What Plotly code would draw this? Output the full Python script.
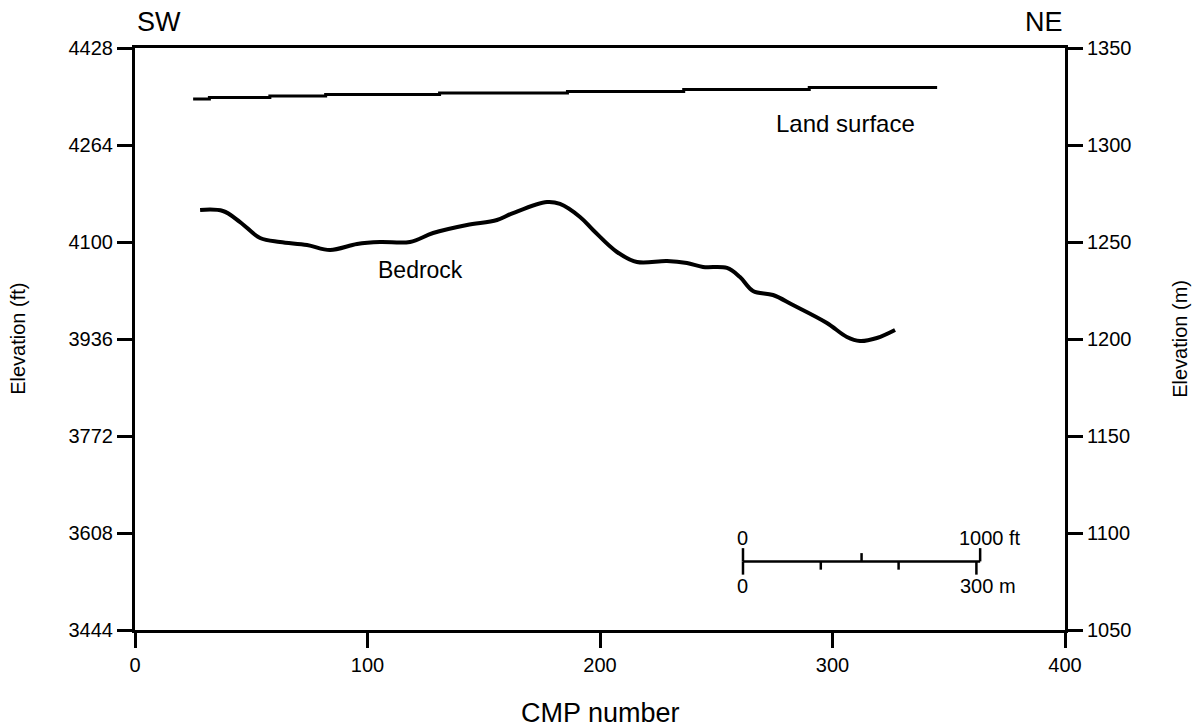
import plotly.graph_objects as go

# CMP profile: land surface (stepped) and bedrock elevation, in feet
land_cmp = [25, 32, 58, 82, 131, 186, 236, 290, 345]
land_ft = [4341.8, 4344.3, 4346.9, 4349.4, 4351.9, 4354.5, 4357.8, 4361.2, 4361.2]

bedrock_cmp = [28.0, 37.8, 45.2, 53.8, 62.4, 74.0, 83.9, 95.5, 105.4, 118.3,
               128.2, 142.8, 155.7, 162.6, 177.2, 182.8, 191.4, 197.0, 207.3,
               215.9, 228.8, 237.4, 244.3, 254.6, 260.2, 265.8, 274.4, 283.0,
               297.6, 306.2, 311.8, 319.1, 326.9]
bedrock_ft = [4154.1, 4152.4, 4133.8, 4106.8, 4100.0, 4095.0, 4086.5, 4096.6,
              4100.0, 4100.0, 4115.2, 4128.8, 4137.2, 4149.0, 4167.6, 4164.3,
              4142.3, 4120.3, 4083.1, 4066.2, 4067.9, 4064.5, 4057.8, 4056.1,
              4040.8, 4017.2, 4010.4, 3993.5, 3963.1, 3939.4, 3932.6, 3937.7,
              3951.2]

x_ticks = [0, 100, 200, 300, 400]
ft_ticks = [3444, 3608, 3772, 3936, 4100, 4264, 4428]
m_ticks = [1050, 1100, 1150, 1200, 1250, 1300, 1350]

# horizontal scale bar (placed in CMP / ft data units)
scale_ft_marks = [0, 500, 1000]
scale_m_marks = [0, 100, 200, 300]
FT_PER_M = 3.2808
bar_x0 = 261.5          # CMP where the bar starts
cmp_per_ft = 102.0 / 1000.0
bar_y = 3560.0
tick_h = 14.0

FONT = "Liberation Sans, Arial, Helvetica, sans-serif"
BLACK = "#000000"

fig = go.Figure()

fig.add_trace(go.Scatter(
    x=land_cmp, y=land_ft, mode="lines", line_shape="hv",
    line=dict(color=BLACK, width=3), hoverinfo="skip", showlegend=False))

fig.add_trace(go.Scatter(
    x=bedrock_cmp, y=bedrock_ft, mode="lines", line_shape="spline",
    line=dict(color=BLACK, width=4, smoothing=1.0), hoverinfo="skip",
    showlegend=False))

# invisible trace to bind the metric axis
fig.add_trace(go.Scatter(x=[None], y=[None], yaxis="y2", showlegend=False,
                         hoverinfo="skip"))

shapes = []
bar_x1 = bar_x0 + 1000 * cmp_per_ft
shapes.append(dict(type="line", xref="x", yref="y", x0=bar_x0, x1=bar_x1,
                   y0=bar_y, y1=bar_y, line=dict(color=BLACK, width=2.5)))
for v in scale_ft_marks:
    xv = bar_x0 + v * cmp_per_ft
    top = bar_y + tick_h * (1.6 if v in (0, 1000) else 1.0)
    shapes.append(dict(type="line", xref="x", yref="y", x0=xv, x1=xv,
                       y0=bar_y, y1=top, line=dict(color=BLACK, width=2.5)))
for v in scale_m_marks:
    xv = bar_x0 + v * FT_PER_M * cmp_per_ft
    bot = bar_y - tick_h * (1.6 if v in (0, 300) else 1.0)
    shapes.append(dict(type="line", xref="x", yref="y", x0=xv, x1=xv,
                       y0=bar_y, y1=bot, line=dict(color=BLACK, width=2.5)))

ann = []
def label(text, x, y, size, xanchor="center", yanchor="middle", xref="x",
          yref="y", angle=0):
    ann.append(dict(text=text, x=x, y=y, xref=xref, yref=yref, showarrow=False,
                    xanchor=xanchor, yanchor=yanchor, textangle=angle,
                    font=dict(family=FONT, size=size, color=BLACK)))

label("0", bar_x0, bar_y + 40, 20, xanchor="center")
label("1000 ft", bar_x1 - 10, bar_y + 40, 20, xanchor="left")
label("0", bar_x0, bar_y - 42, 20, xanchor="center")
label("300 m", bar_x0 + 300 * FT_PER_M * cmp_per_ft - 8, bar_y - 42, 20,
      xanchor="left")

label("Land surface", 305.5, 4300.5, 24)
label("Bedrock", 123, 4052, 23)

# direction labels and axis titles in paper coordinates
label("SW", 0.0, 1.045, 27, xanchor="left", xref="paper", yref="paper")
label("NE", 1.0, 1.045, 27, xanchor="right", xref="paper", yref="paper")
label("Elevation (ft)", -0.126, 0.5, 20, xref="paper", yref="paper", angle=-90)
label("Elevation (m)", 1.1235, 0.5, 20, xref="paper", yref="paper", angle=-90)
label("CMP number", 0.5, -0.142, 27, yanchor="middle", xref="paper", yref="paper")

axis_common = dict(showgrid=False, zeroline=False, showline=True,
                   linecolor=BLACK, linewidth=3, ticks="outside", ticklen=15,
                   tickwidth=3, tickcolor=BLACK,
                   tickfont=dict(family=FONT, size=20, color=BLACK))

fig.update_layout(
    width=1195, height=728,
    margin=dict(l=135, r=130, t=48, b=98),
    paper_bgcolor="white", plot_bgcolor="white",
    shapes=shapes, annotations=ann,
    xaxis=dict(range=[0, 400], tickvals=x_ticks, mirror=True, **axis_common),
    yaxis=dict(range=[3444, 4428], tickvals=ft_ticks, **axis_common),
    yaxis2=dict(range=[1050, 1350], tickvals=m_ticks, overlaying="y",
                side="right", **axis_common),
)

fig.write_html("out.html")
